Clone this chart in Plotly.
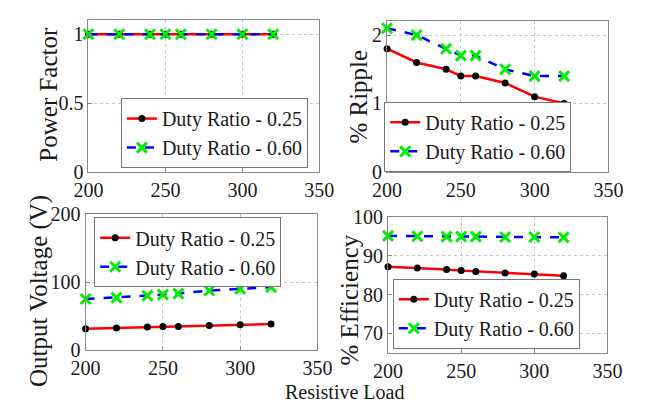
import plotly.graph_objects as go

# Resistive load values (ohms) shared by all four panels
load = [200, 220, 240, 250, 260, 280, 300, 320]

# Power factor
pf_d025 = [1, 1, 1, 1, 1, 1, 1, 1]
pf_d060 = [1, 1, 1, 1, 1, 1, 1, 1]

# Percentage ripple
ripple_d025 = [1.8, 1.6, 1.5, 1.4, 1.4, 1.3, 1.1, 1.0]
ripple_d060 = [2.1, 2.0, 1.8, 1.7, 1.7, 1.5, 1.4, 1.4]

# Output voltage (V)
vout_d025 = [31, 32, 33.5, 34.5, 34.5, 36, 37, 38]
vout_d060 = [75, 77, 80, 81.5, 83, 87.5, 90, 92.5]

# Percentage efficiency
eff_d025 = [87.2, 86.9, 86.5, 86.2, 86.0, 85.6, 85.3, 84.9]
eff_d060 = [95.2, 95.1, 95.0, 95.0, 95.0, 94.9, 94.9, 94.8]

name_a = "Duty Ratio - 0.25"
name_b = "Duty Ratio - 0.60"

x_ticks = [200, 250, 300, 350]
pf_ticks = [0, 0.5, 1]
ripple_ticks = [0, 1, 2]
vout_ticks = [0, 100, 200]
eff_ticks = [70, 80, 90, 100]

FONT = "Liberation Serif"
TXT = "#1a1a1a"
W, H = 653, 409

fig = go.Figure()

panels = [
    # (x axis, y axis, legend, series A, series B)
    ("x", "y", "legend", pf_d025, pf_d060),
    ("x2", "y2", "legend2", ripple_d025, ripple_d060),
    ("x3", "y3", "legend3", vout_d025, vout_d060),
    ("x4", "y4", "legend4", eff_d025, eff_d060),
]

for xa, ya, lg, sa, sb in panels:
    fig.add_trace(go.Scatter(
        x=load, y=sa, name=name_a, xaxis=xa, yaxis=ya, legend=lg,
        mode="lines+markers", cliponaxis=False,
        line=dict(color="#ff0000", width=2.5),
        marker=dict(symbol="circle", size=7, color="#000000"),
    ))
    fig.add_trace(go.Scatter(
        x=load, y=sb, name=name_b, xaxis=xa, yaxis=ya, legend=lg,
        mode="lines+markers", cliponaxis=False,
        line=dict(color="#0000ff", width=2.5, dash="dash"),
        marker=dict(symbol="x-thin", size=10,
                    line=dict(color="#00ee00", width=3)),
    ))


def px_x(p):
    return p / W


def px_y(p):
    return 1 - p / H


def xaxis(left, right, anchor):
    return dict(
        domain=[px_x(left), px_x(right)], anchor=anchor, range=[200, 350],
        tickvals=x_ticks, ticks="inside", ticklen=4, tickcolor="#888",
        showline=True, mirror=True, linecolor="#888", linewidth=1,
        showgrid=True, gridcolor="#c8c8c8", griddash="dot", gridwidth=1,
        zeroline=False,
        tickfont=dict(family=FONT, size=20, color=TXT),
    )


def yaxis(top, bottom, anchor, rng, ticks):
    return dict(
        domain=[px_y(bottom), px_y(top)], anchor=anchor, range=rng,
        tickvals=ticks, ticks="inside", ticklen=4, tickcolor="#888",
        showline=True, mirror=True, linecolor="#888", linewidth=1,
        showgrid=True, gridcolor="#c8c8c8", griddash="dot", gridwidth=1,
        zeroline=False,
        tickfont=dict(family=FONT, size=20, color=TXT),
    )


def legend(x, y, xanchor, yanchor):
    return dict(
        x=px_x(x), y=px_y(y), xanchor=xanchor, yanchor=yanchor,
        bgcolor="white", bordercolor="#777", borderwidth=1,
        font=dict(family=FONT, size=20, color=TXT),
        tracegroupgap=0, itemwidth=30,
    )


fig.update_layout(
    width=W, height=H,
    margin=dict(l=0, r=0, t=0, b=0),
    paper_bgcolor="white", plot_bgcolor="white",
    font=dict(family=FONT, size=20, color=TXT),
    xaxis=xaxis(77, 319, "y"),
    yaxis=yaxis(10, 170, "x", [0, 1.1], pf_ticks),
    xaxis2=xaxis(390, 622, "y2"),
    yaxis2=yaxis(11, 170, "x2", [0, 2.2], ripple_ticks),
    xaxis3=xaxis(74, 317, "y3"),
    yaxis3=yaxis(215, 358, "x3", [0, 200], vout_ticks),
    xaxis4=xaxis(391, 621, "y4"),
    yaxis4=yaxis(218, 361, "x4", [65, 100], eff_ticks),
    legend=legend(307, 166, "right", "bottom"),
    legend2=legend(387, 170, "left", "bottom"),
    legend3=legend(83, 218, "left", "top"),
    legend4=legend(396, 357, "left", "bottom"),
    showlegend=True,
)

titles = [
    ("Power Factor", 35, 88),
    ("% Ripple", 360, 90),
    ("Output Voltage (V)", 25, 296),
    ("% Efficiency", 351, 305),
]
for text, tx, ty in titles:
    fig.add_annotation(
        text=text, x=px_x(tx), y=px_y(ty), xref="paper", yref="paper",
        xanchor="center", yanchor="middle", textangle=-90,
        showarrow=False, font=dict(family=FONT, size=25, color=TXT),
    )

fig.add_annotation(
    text="Resistive Load", x=px_x(345), y=0.0, xref="paper", yref="paper",
    xanchor="center", yanchor="bottom", showarrow=False, yshift=-7,
    font=dict(family=FONT, size=20, color=TXT),
)

fig.write_html("out.html")
